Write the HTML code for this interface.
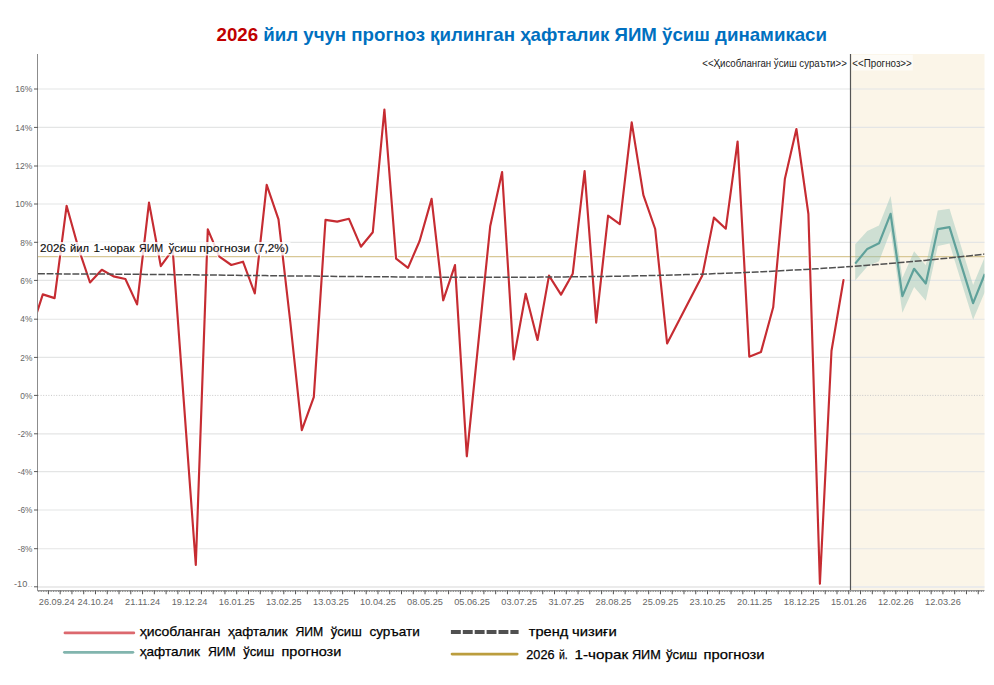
<!DOCTYPE html>
<html><head><meta charset="utf-8">
<style>
html,body{margin:0;padding:0;background:#fff;}
body{width:994px;height:685px;overflow:hidden;font-family:"Liberation Sans",sans-serif;}
svg{display:block;font-family:"Liberation Sans",sans-serif;}
.ax{font-size:9.2px;fill:#666;}
.ttl{font-size:18.6px;font-weight:bold;}
.lg{font-size:13.5px;fill:#000;stroke:#000;stroke-width:0.25px;}
.hd{font-size:10.1px;fill:#222;}
.ref{font-size:11px;fill:#111;stroke:#111;stroke-width:0.15px;}
</style></head><body>
<svg width="994" height="685" viewBox="0 0 994 685">
<defs><clipPath id="cp"><rect x="38.0" y="54.0" width="946.5" height="536.5"/></clipPath></defs>
<rect width="994" height="685" fill="#fff"/>
<text x="216.5" y="41.2" class="ttl" textLength="610.5" lengthAdjust="spacingAndGlyphs"><tspan fill="#c00000">2026</tspan><tspan fill="#0070c0"> йил учун прогноз қилинган ҳафталик ЯИМ ўсиш динамикаси</tspan></text>
<!-- forecast background -->
<rect x="850.5" y="54.0" width="134.0" height="536.5" fill="#fbf5e8"/>
<line x1="38.0" x2="984.5" y1="89.0" y2="89.0" stroke="#e4e5e5" stroke-width="1.15"/>
<line x1="38.0" x2="984.5" y1="127.4" y2="127.4" stroke="#e4e5e5" stroke-width="1.15"/>
<line x1="38.0" x2="984.5" y1="166.0" y2="166.0" stroke="#e4e5e5" stroke-width="1.15"/>
<line x1="38.0" x2="984.5" y1="204.0" y2="204.0" stroke="#e4e5e5" stroke-width="1.15"/>
<line x1="38.0" x2="984.5" y1="242.3" y2="242.3" stroke="#e4e5e5" stroke-width="1.15"/>
<line x1="38.0" x2="984.5" y1="280.4" y2="280.4" stroke="#e4e5e5" stroke-width="1.15"/>
<line x1="38.0" x2="984.5" y1="319.2" y2="319.2" stroke="#e4e5e5" stroke-width="1.15"/>
<line x1="38.0" x2="984.5" y1="357.4" y2="357.4" stroke="#e4e5e5" stroke-width="1.15"/>
<line x1="38.0" x2="984.5" y1="433.8" y2="433.8" stroke="#e4e5e5" stroke-width="1.15"/>
<line x1="38.0" x2="984.5" y1="471.6" y2="471.6" stroke="#e4e5e5" stroke-width="1.15"/>
<line x1="38.0" x2="984.5" y1="510.0" y2="510.0" stroke="#e4e5e5" stroke-width="1.15"/>
<line x1="38.0" x2="984.5" y1="548.7" y2="548.7" stroke="#e4e5e5" stroke-width="1.15"/>
<line x1="38.0" x2="984.5" y1="587.1" y2="587.1" stroke="#ebebeb" stroke-width="2.0"/>
<line x1="38.0" x2="984.5" y1="395.4" y2="395.4" stroke="#c8c8c8" stroke-width="1" stroke-dasharray="1,1.6"/>

<!-- ref line -->
<line x1="38.0" x2="984.5" y1="256.6" y2="256.6" stroke="#d8c896" stroke-width="1.15"/>
<g clip-path="url(#cp)">
<polygon points="855.2,244.3 867.3,230.9 879.0,225.6 890.6,195.9 902.4,278.0 914.1,251.3 925.8,265.3 937.8,210.4 949.5,208.7 961.3,247.0 973.1,285.0 984.8,257.0 984.8,292.0 973.1,319.7 961.3,282.0 949.5,243.6 937.8,245.9 925.8,300.8 914.1,287.0 902.4,312.7 890.6,231.0 879.0,261.3 867.3,266.4 855.2,280.5" fill="#8fc0b4" fill-opacity="0.42"/>
<polyline points="855.2,263.6 867.3,248.9 879.0,243.3 890.6,213.8 902.4,296.1 914.1,268.8 925.8,283.5 937.8,229.1 949.5,227.2 961.3,265.1 973.1,303.1 984.8,274.0" fill="none" stroke="#5fa19a" stroke-width="2.2" stroke-linejoin="round"/>
<polyline points="31.0,330.7 42.8,294.4 54.6,298.1 66.6,205.8 78.4,248.0 90.0,282.5 101.8,269.8 113.5,276.4 125.4,279.0 137.1,304.4 149.0,202.6 160.8,266.1 172.7,249.7 195.8,565.0 207.8,229.3 219.4,256.7 231.3,265.0 243.0,261.7 254.8,293.5 266.7,184.8 278.5,219.4 290.3,322.0 301.8,430.2 313.8,397.1 325.5,219.9 337.2,221.6 349.0,218.8 360.9,246.7 372.8,232.2 384.4,109.5 396.1,258.7 408.0,267.9 419.6,241.0 431.6,198.9 443.2,300.3 455.0,265.1 466.8,456.3 490.2,226.3 502.1,172.1 513.7,359.4 525.7,293.8 537.5,340.0 549.0,275.6 561.0,294.6 572.7,273.8 584.6,171.1 596.2,322.7 608.1,215.7 619.8,224.1 631.7,122.4 643.4,195.1 655.2,229.0 667.1,343.5 702.3,275.6 713.9,217.6 725.8,228.7 737.6,141.5 749.3,356.7 761.0,351.9 773.2,307.3 784.9,178.7 796.4,129.0 808.4,214.0 819.9,583.8 831.5,350.8 843.5,280.0" fill="none" stroke="#fff" stroke-opacity="0.75" stroke-width="4.4" stroke-linejoin="round" stroke-linecap="round"/>
<polyline points="31.0,330.7 42.8,294.4 54.6,298.1 66.6,205.8 78.4,248.0 90.0,282.5 101.8,269.8 113.5,276.4 125.4,279.0 137.1,304.4 149.0,202.6 160.8,266.1 172.7,249.7 195.8,565.0 207.8,229.3 219.4,256.7 231.3,265.0 243.0,261.7 254.8,293.5 266.7,184.8 278.5,219.4 290.3,322.0 301.8,430.2 313.8,397.1 325.5,219.9 337.2,221.6 349.0,218.8 360.9,246.7 372.8,232.2 384.4,109.5 396.1,258.7 408.0,267.9 419.6,241.0 431.6,198.9 443.2,300.3 455.0,265.1 466.8,456.3 490.2,226.3 502.1,172.1 513.7,359.4 525.7,293.8 537.5,340.0 549.0,275.6 561.0,294.6 572.7,273.8 584.6,171.1 596.2,322.7 608.1,215.7 619.8,224.1 631.7,122.4 643.4,195.1 655.2,229.0 667.1,343.5 702.3,275.6 713.9,217.6 725.8,228.7 737.6,141.5 749.3,356.7 761.0,351.9 773.2,307.3 784.9,178.7 796.4,129.0 808.4,214.0 819.9,583.8 831.5,350.8 843.5,280.0" fill="none" stroke="#c62c32" stroke-width="2.15" stroke-linejoin="round" stroke-linecap="round"/>
<polyline points="38.0,273.8 50.0,273.8 62.0,273.9 73.9,273.9 85.9,274.0 97.9,274.0 109.9,274.1 121.9,274.2 133.8,274.3 145.8,274.4 157.8,274.5 169.8,274.6 181.8,274.7 193.8,274.8 205.7,275.0 217.7,275.1 229.7,275.2 241.7,275.4 253.7,275.5 265.6,275.6 277.6,275.8 289.6,275.9 301.6,276.0 313.6,276.1 325.5,276.3 337.5,276.4 349.5,276.5 361.5,276.6 373.5,276.7 385.4,276.8 397.4,276.9 409.4,277.0 421.4,277.0 433.4,277.1 445.4,277.2 457.3,277.2 469.3,277.2 481.3,277.2 493.3,277.2 505.3,277.2 517.2,277.2 529.2,277.2 541.2,277.1 553.2,277.0 565.2,276.9 577.1,276.8 589.1,276.6 601.1,276.5 613.1,276.3 625.1,276.1 637.1,275.8 649.0,275.6 661.0,275.3 673.0,275.0 685.0,274.6 697.0,274.3 708.9,273.9 720.9,273.4 732.9,273.0 744.9,272.5 756.9,272.0 768.8,271.4 780.8,270.8 792.8,270.1 804.8,269.5 816.8,268.8 828.7,268.0 840.7,267.2 852.7,266.4 864.7,265.5 876.7,264.6 888.7,263.6 900.6,262.6 912.6,261.5 924.6,260.4 936.6,259.2 948.6,258.0 960.5,256.8 972.5,255.4 984.5,254.1" fill="none" stroke="#505050" stroke-width="1.5" stroke-dasharray="6.9,1.7"/>
</g>
<!-- ref label -->
<rect x="38.5" y="242" width="252" height="13.5" fill="#fff" fill-opacity="0.82"/>
<text x="40.0" y="252.4" class="ref" textLength="25.8" lengthAdjust="spacingAndGlyphs">2026</text><text x="70.1" y="252.4" class="ref" textLength="19.0" lengthAdjust="spacingAndGlyphs">йил</text><text x="93.6" y="252.4" class="ref" textLength="40.9" lengthAdjust="spacingAndGlyphs">1-чорак</text><text x="139" y="252.4" class="ref" textLength="24.2" lengthAdjust="spacingAndGlyphs">ЯИМ</text><text x="168.4" y="252.4" class="ref" textLength="27.7" lengthAdjust="spacingAndGlyphs">ўсиш</text><text x="199.3" y="252.4" class="ref" textLength="50.7" lengthAdjust="spacingAndGlyphs">прогнози</text><text x="254" y="252.4" class="ref" textLength="34.7" lengthAdjust="spacingAndGlyphs">(7,2%)</text>
<!-- divider -->
<line x1="850.5" x2="850.5" y1="54.0" y2="590.5" stroke="#555" stroke-width="1.2"/>
<rect x="851.8" y="54.8" width="61" height="15.7" fill="#fff" fill-opacity="0.6"/>
<text x="846.8" y="67" text-anchor="end" class="hd" textLength="144.5" lengthAdjust="spacingAndGlyphs">&lt;&lt;Ҳисобланган ўсиш сураъти&gt;&gt;</text>
<text x="852.3" y="67" class="hd" textLength="59.5" lengthAdjust="spacingAndGlyphs">&lt;&lt;Прогноз&gt;&gt;</text>
<!-- axes -->
<line x1="37.5" x2="37.5" y1="54.0" y2="591.0" stroke="#8c8c8c" stroke-width="1"/>
<line x1="37.3" x2="984.5" y1="590.5" y2="590.5" stroke="#9a9a9a" stroke-width="1"/>
<line x1="37.86" x2="984.5" y1="591.3" y2="591.3" stroke="#808080" stroke-width="1.6" stroke-dasharray="0.9,0.7814"/><line x1="47.90" x2="984.5" y1="592.4" y2="592.4" stroke="#555" stroke-width="3.8" stroke-dasharray="1,10.7700"/>

<text x="15.3" y="92.2" class="ax" textLength="17.1" lengthAdjust="spacingAndGlyphs">16%</text>
<line x1="34" x2="38.0" y1="89.0" y2="89.0" stroke="#5a5a5a" stroke-width="1"/>
<text x="15.3" y="130.6" class="ax" textLength="17.1" lengthAdjust="spacingAndGlyphs">14%</text>
<line x1="34" x2="38.0" y1="127.4" y2="127.4" stroke="#5a5a5a" stroke-width="1"/>
<text x="15.3" y="169.2" class="ax" textLength="17.1" lengthAdjust="spacingAndGlyphs">12%</text>
<line x1="34" x2="38.0" y1="166.0" y2="166.0" stroke="#5a5a5a" stroke-width="1"/>
<text x="15.3" y="207.2" class="ax" textLength="17.1" lengthAdjust="spacingAndGlyphs">10%</text>
<line x1="34" x2="38.0" y1="204.0" y2="204.0" stroke="#5a5a5a" stroke-width="1"/>
<text x="20.3" y="245.5" class="ax" textLength="12.1" lengthAdjust="spacingAndGlyphs">8%</text>
<line x1="34" x2="38.0" y1="242.3" y2="242.3" stroke="#5a5a5a" stroke-width="1"/>
<text x="20.3" y="283.6" class="ax" textLength="12.1" lengthAdjust="spacingAndGlyphs">6%</text>
<line x1="34" x2="38.0" y1="280.4" y2="280.4" stroke="#5a5a5a" stroke-width="1"/>
<text x="20.3" y="322.4" class="ax" textLength="12.1" lengthAdjust="spacingAndGlyphs">4%</text>
<line x1="34" x2="38.0" y1="319.2" y2="319.2" stroke="#5a5a5a" stroke-width="1"/>
<text x="20.3" y="360.6" class="ax" textLength="12.1" lengthAdjust="spacingAndGlyphs">2%</text>
<line x1="34" x2="38.0" y1="357.4" y2="357.4" stroke="#5a5a5a" stroke-width="1"/>
<text x="20.3" y="398.6" class="ax" textLength="12.1" lengthAdjust="spacingAndGlyphs">0%</text>
<line x1="34" x2="38.0" y1="395.4" y2="395.4" stroke="#5a5a5a" stroke-width="1"/>
<text x="17.7" y="437.0" class="ax" textLength="14.7" lengthAdjust="spacingAndGlyphs">-2%</text>
<line x1="34" x2="38.0" y1="433.8" y2="433.8" stroke="#5a5a5a" stroke-width="1"/>
<text x="17.7" y="474.8" class="ax" textLength="14.7" lengthAdjust="spacingAndGlyphs">-4%</text>
<line x1="34" x2="38.0" y1="471.6" y2="471.6" stroke="#5a5a5a" stroke-width="1"/>
<text x="17.7" y="513.2" class="ax" textLength="14.7" lengthAdjust="spacingAndGlyphs">-6%</text>
<line x1="34" x2="38.0" y1="510.0" y2="510.0" stroke="#5a5a5a" stroke-width="1"/>
<text x="17.7" y="551.9" class="ax" textLength="14.7" lengthAdjust="spacingAndGlyphs">-8%</text>
<line x1="34" x2="38.0" y1="548.7" y2="548.7" stroke="#5a5a5a" stroke-width="1"/>
<text x="27.3" y="587.1" text-anchor="end" class="ax">-10</text><text x="27.6" y="587.1" class="ax" fill-opacity="0.45">..</text>
<line x1="34" x2="38.0" y1="586.8" y2="586.8" stroke="#5a5a5a" stroke-width="1"/>

<text x="38.8" y="604.6" text-anchor="start" class="ax">26.09.24</text>
<text x="95.5" y="604.6" text-anchor="middle" class="ax">24.10.24</text>
<text x="142.6" y="604.6" text-anchor="middle" class="ax">21.11.24</text>
<text x="189.6" y="604.6" text-anchor="middle" class="ax">19.12.24</text>
<text x="236.7" y="604.6" text-anchor="middle" class="ax">16.01.25</text>
<text x="283.8" y="604.6" text-anchor="middle" class="ax">13.02.25</text>
<text x="330.9" y="604.6" text-anchor="middle" class="ax">13.03.25</text>
<text x="378.0" y="604.6" text-anchor="middle" class="ax">10.04.25</text>
<text x="425.0" y="604.6" text-anchor="middle" class="ax">08.05.25</text>
<text x="472.1" y="604.6" text-anchor="middle" class="ax">05.06.25</text>
<text x="519.2" y="604.6" text-anchor="middle" class="ax">03.07.25</text>
<text x="566.3" y="604.6" text-anchor="middle" class="ax">31.07.25</text>
<text x="613.4" y="604.6" text-anchor="middle" class="ax">28.08.25</text>
<text x="660.4" y="604.6" text-anchor="middle" class="ax">25.09.25</text>
<text x="707.5" y="604.6" text-anchor="middle" class="ax">23.10.25</text>
<text x="754.6" y="604.6" text-anchor="middle" class="ax">20.11.25</text>
<text x="801.7" y="604.6" text-anchor="middle" class="ax">18.12.25</text>
<text x="848.8" y="604.6" text-anchor="middle" class="ax">15.01.26</text>
<text x="895.8" y="604.6" text-anchor="middle" class="ax">12.02.26</text>
<text x="942.9" y="604.6" text-anchor="middle" class="ax">12.03.26</text>

<!-- legend -->
<line x1="65" x2="133.8" y1="632.9" y2="632.9" stroke="#dc686e" stroke-width="2.8" stroke-linecap="round"/>
<line x1="64.4" x2="132.9" y1="652.3" y2="652.3" stroke="#82b5ae" stroke-width="2.8" stroke-linecap="round"/>
<line x1="450.9" x2="518.6" y1="632" y2="632" stroke="#505050" stroke-width="3.8" stroke-dasharray="9.9,2"/>
<line x1="452" x2="517.2" y1="654.1" y2="654.1" stroke="#bb9d3e" stroke-width="2.7" stroke-linecap="round"/>
<text x="139.7" y="636.2" class="lg" textLength="80.9" lengthAdjust="spacingAndGlyphs">ҳисобланган</text><text x="228.1" y="636.2" class="lg" textLength="59.5" lengthAdjust="spacingAndGlyphs">ҳафталик</text><text x="295.4" y="636.2" class="lg" textLength="27.8" lengthAdjust="spacingAndGlyphs">ЯИМ</text><text x="330.7" y="636.2" class="lg" textLength="31.1" lengthAdjust="spacingAndGlyphs">ўсиш</text><text x="369.4" y="636.2" class="lg" textLength="50.4" lengthAdjust="spacingAndGlyphs">суръати</text>
<text x="139.7" y="655.8" class="lg" textLength="60.3" lengthAdjust="spacingAndGlyphs">ҳафталик</text><text x="207.9" y="655.8" class="lg" textLength="27.7" lengthAdjust="spacingAndGlyphs">ЯИМ</text><text x="243.2" y="655.8" class="lg" textLength="31.1" lengthAdjust="spacingAndGlyphs">ўсиш</text><text x="281.5" y="655.8" class="lg" textLength="59.8" lengthAdjust="spacingAndGlyphs">прогнози</text>
<text x="528.8" y="636.0" class="lg" textLength="39.5" lengthAdjust="spacingAndGlyphs">тренд</text><text x="572.1" y="636.0" class="lg" textLength="44.7" lengthAdjust="spacingAndGlyphs">чизиғи</text>
<text x="526.3" y="658.6" class="lg" textLength="28.2" lengthAdjust="spacingAndGlyphs">2026</text><text x="559" y="658.6" class="lg" textLength="8.8" lengthAdjust="spacingAndGlyphs">й.</text><text x="574.6" y="658.6" class="lg" textLength="53.5" lengthAdjust="spacingAndGlyphs">1-чорак</text><text x="631.9" y="658.6" class="lg" textLength="28.9" lengthAdjust="spacingAndGlyphs">ЯИМ</text><text x="665.9" y="658.6" class="lg" textLength="31.4" lengthAdjust="spacingAndGlyphs">ўсиш</text><text x="703.6" y="658.6" class="lg" textLength="60.9" lengthAdjust="spacingAndGlyphs">прогнози</text>
</svg>
</body></html>
